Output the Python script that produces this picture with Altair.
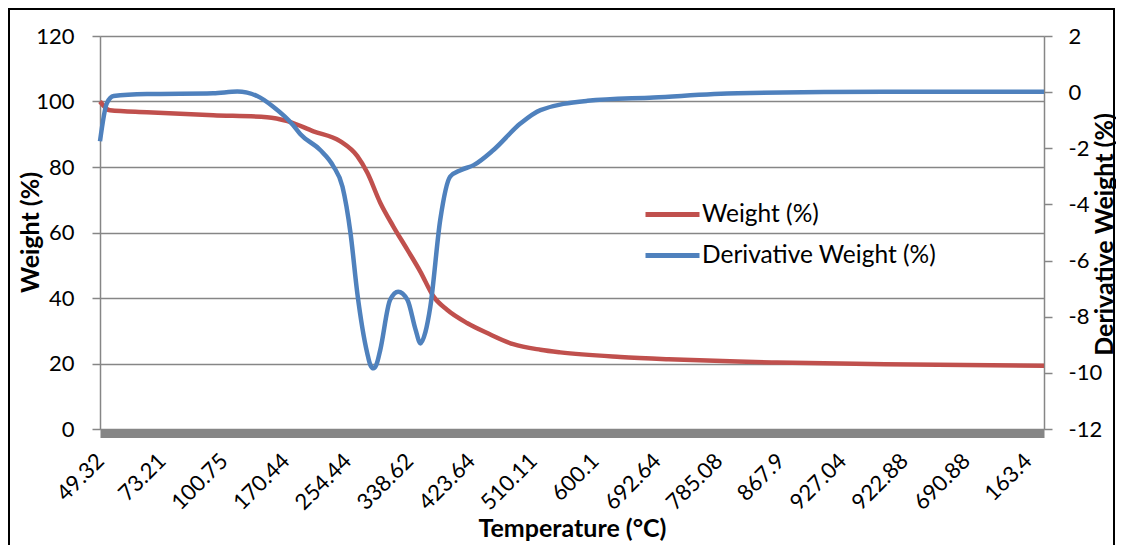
import altair as alt
import pandas as pd

# x-axis category labels (every 20th sample of the Excel category axis)
x_labels = ["49.32", "73.21", "100.75", "170.44", "254.44", "338.62", "423.64", "510.11",
            "600.1", "692.64", "785.08", "867.9", "927.04", "922.88", "690.88", "163.4"]

# positions in label units (0 = first label, 15 = last label)
weight_u = [0.00, 0.16, 0.76, 1.83, 2.70, 3.03, 3.45, 3.88, 4.16, 4.32, 4.53, 4.74, 4.97,
            5.18, 5.39, 5.61, 5.94, 6.26, 6.68, 7.12, 7.44, 8.41, 9.19, 10.31, 10.94, 12.69, 15.26]
weight = [100.0, 97.3, 96.7, 95.8, 95.2, 94.0, 90.9, 87.9, 83.3, 78.3, 69.1, 61.9, 54.7,
          48.0, 40.5, 36.4, 32.3, 29.3, 25.9, 24.2, 23.4, 22.0, 21.3, 20.6, 20.3, 19.8, 19.3]

deriv_u = [0.00, 0.11, 0.22, 0.76, 1.83, 2.22, 2.54, 2.80, 3.12, 3.24, 3.56, 3.77, 3.92, 4.05,
           4.16, 4.32, 4.37, 4.42, 4.47, 4.53, 4.69, 4.82, 4.97, 5.10, 5.18, 5.26, 5.34, 5.50,
           5.66, 5.83, 6.04, 6.36, 6.80, 7.12, 7.88, 8.95, 10.31, 12.69, 15.26]
deriv = [-1.75, -0.40, -0.14, -0.07, -0.04, 0.02, -0.14, -0.52, -1.17, -1.50, -2.06, -2.63, -3.37,
         -5.03, -7.17, -9.30, -9.72, -9.84, -9.70, -9.19, -7.40, -7.11, -7.40, -8.45, -8.95, -8.55,
         -7.64, -4.55, -3.01, -2.78, -2.60, -2.06, -1.11, -0.64, -0.31, -0.19, -0.04, 0.01, 0.01]

series_names = ["Weight (%)", "Derivative Weight (%)"]
series_colors = ["#C0504D", "#4F81BD"]

FONT = "Lato"
GRID = "#868686"
TICK_FS = 22
TITLE_FS = 25

w_df = pd.DataFrame({"u": weight_u, "value": weight, "series": series_names[0]})
d_df = pd.DataFrame({"u": deriv_u, "value": deriv, "series": series_names[1]})

label_expr = "[" + ",".join("'" + s + "'" for s in x_labels) + "][datum.value]"

x_enc = alt.X(
    "u:Q",
    scale=alt.Scale(domain=[0, 15.26], nice=False, zero=False),
    axis=alt.Axis(
        values=list(range(len(x_labels))), labelExpr=label_expr, labelOverlap=False,
        labelAngle=315, labelAlign="right", labelBaseline="middle",
        labelFontSize=TICK_FS, labelPadding=24, labelOffset=0, labelColor="black",
        labelFont=FONT, ticks=False, grid=False, domainColor=GRID, domainWidth=9, offset=4,
        title="Temperature (°C)", titleFont=FONT, titleFontSize=TITLE_FS,
        titleFontWeight="bold", titleColor="black",
        titleX=472, titleY=95, titleAlign="center", titleBaseline="middle",
    ),
)

color_enc = alt.Color(
    "series:N",
    scale=alt.Scale(domain=series_names, range=series_colors),
    legend=alt.Legend(
        title=None, orient="none", legendX=543, legendY=149, padding=0,
        symbolType="stroke", symbolSize=2916, symbolStrokeWidth=5,
        labelFont=FONT, labelFontSize=24.5, labelColor="black", labelOffset=0,
        labelLimit=500, rowPadding=-12,
    ),
)

weight_line = alt.Chart(w_df).mark_line(strokeWidth=4.5, interpolate="monotone").encode(
    x=x_enc,
    y=alt.Y(
        "value:Q",
        scale=alt.Scale(domain=[0, 120], nice=False),
        axis=alt.Axis(
            values=[0, 20, 40, 60, 80, 100, 120], orient="left",
            grid=True, gridColor=GRID, gridWidth=1.5,
            domainColor=GRID, domainWidth=1.5, tickColor=GRID, tickSize=8, tickWidth=1.5,
            labelFont=FONT, labelFontSize=TICK_FS, labelColor="black", labelPadding=18,
            title="Weight (%)", titleFont=FONT, titleFontSize=TITLE_FS, titleFontWeight="bold",
            titleColor="black", titleX=-70, titleY=196, titleAngle=270,
            titleAlign="center", titleBaseline="middle",
        ),
    ),
    color=color_enc,
)

deriv_line = alt.Chart(d_df).mark_line(strokeWidth=4.5, interpolate="monotone").encode(
    x=x_enc,
    y=alt.Y(
        "value:Q",
        scale=alt.Scale(domain=[-12, 2], nice=False, zero=False),
        axis=alt.Axis(
            values=[2, 0, -2, -4, -6, -8, -10, -12], orient="right",
            labelExpr="'' + datum.value",
            grid=False, domainColor=GRID, domainWidth=1.5, tickColor=GRID, tickSize=8,
            tickWidth=1.5, labelFont=FONT, labelFontSize=TICK_FS, labelColor="black",
            labelPadding=16,
            title="Derivative Weight (%)", titleFont=FONT, titleFontSize=TITLE_FS,
            titleFontWeight="bold", titleColor="black", titleAngle=270,
            titleX=60, titleY=198, titleAlign="center", titleBaseline="middle",
        ),
    ),
    color=color_enc,
)

frame = alt.Chart(pd.DataFrame({"k": [0]})).mark_rect(
    fillOpacity=0, stroke="black", strokeWidth=2
).encode(
    x=alt.value(-91), x2=alt.value(1014), y=alt.value(-27), y2=alt.value(700)
)

chart = alt.layer(weight_line, deriv_line, frame).resolve_scale(y="independent").properties(
    width=944, height=393,
    padding={"left": 92, "top": 28, "right": 72, "bottom": 116},
    autosize=alt.AutoSizeParams(type="none"),
).configure_view(stroke=None).configure(background="white")

chart.save("out.html", embed_options={"renderer": "svg", "actions": False})
